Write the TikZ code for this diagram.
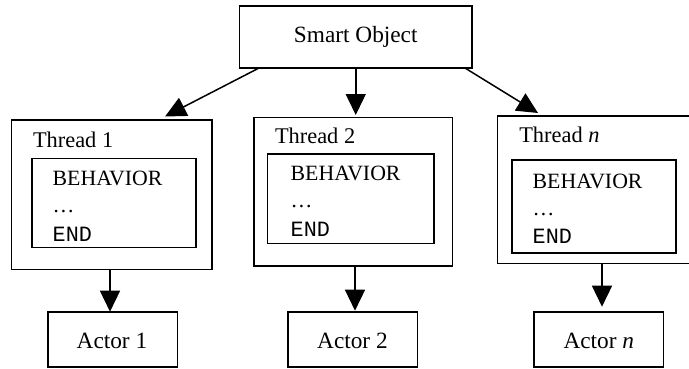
\documentclass[tikz,border=0pt]{standalone}
\usepackage{fontspec}
\setmainfont{Liberation Serif}
\setmonofont{Liberation Mono}
\usetikzlibrary{arrows.meta}
\begin{document}
\begin{tikzpicture}[x=1pt,y=-1pt,
  box/.style={draw,line width=1.6pt,rectangle,inner sep=0pt,outer sep=0pt,font=\fontsize{23.3pt}{28pt}\selectfont},
  txt/.style={anchor=base west,inner sep=0pt,outer sep=0pt,font=\fontsize{23.3pt}{28pt}\selectfont},
  thr/.style={txt,font=\fontsize{22.4pt}{27pt}\selectfont},
  inl/.style={txt,font=\fontsize{21.8pt}{26pt}\selectfont},
  arr/.style={line width=1.5pt,-{Triangle[length=21pt,width=20pt]}}]
\useasboundingbox (0,0) rectangle (689,368);
% top
\node[box,minimum width=232.5pt,minimum height=62pt] (so) at (355.75,37) {Smart Object};
% threads
\node[box,minimum width=200.2pt,minimum height=149.5pt] (t1) at (111.6,194.75) {};
\node[box,minimum width=198.5pt,minimum height=148.2pt] (t2) at (353.25,191.6) {};
\node[box,minimum width=210pt,minimum height=147.5pt] (tn) at (602.5,189.75) {};
\node[thr] (t1l) at (33,147) {Thread 1};
\node[thr] (t2l) at (275,143.3) {Thread 2};
\node[thr] (tnl) at (519.3,142.3) {Thread \textit{n}};
% inner boxes
\node[box,minimum width=164pt,minimum height=89.2pt] (in1) at (113.7,202.9) {};
\node[box,minimum width=166.5pt,minimum height=89.5pt] (in2) at (350.75,198.75) {};
\node[box,minimum width=164pt,minimum height=92.7pt] (inn) at (593.7,206.35) {};
\node[inl] (b1) at (52.7,185) {BEHAVIOR};
\node[inl] (d1) at (52.7,212) {…};
\node[inl] (e1) at (52.7,241) {\ttfamily END};
\node[inl] (b2) at (290.7,180) {BEHAVIOR};
\node[inl] (d2) at (290.7,207) {…};
\node[inl] (e2) at (290.7,236) {\ttfamily END};
\node[inl] (bn) at (532.7,188.3) {BEHAVIOR};
\node[inl] (dn) at (532.7,215) {…};
\node[inl] (en) at (532.7,243.3) {\ttfamily END};
% actors
\node[box,minimum width=129.8pt,minimum height=55.3pt] (a1) at (112.6,339.35) {};
\node[box,minimum width=129.5pt,minimum height=55.3pt] (a2) at (352.75,339.35) {};
\node[box,minimum width=129.4pt,minimum height=55.3pt] (an) at (598.7,339.35) {};
\node[txt] (a1l) at (76.7,348.3) {Actor 1};
\node[txt] (a2l) at (317.2,348.3) {Actor 2};
\node[txt] (anl) at (563.5,348.3) {Actor \textit{n}};
% arrows top
\draw[arr] ([xshift=19.5pt]so.south west) -- ([xshift=153.5pt,yshift=3.5pt]t1.north west);
\draw[arr,shorten >=2.5pt] (so.south) -- (so.south |- t2.north);
\draw[arr] ([xshift=-7pt]so.south east) -- ([xshift=40.5pt,yshift=3pt]tn.north west);
% arrows bottom
\coordinate (a1in) at ([xshift=-2.6pt]a1.north);
\coordinate (a2in) at ([xshift=2.25pt]a2.north);
\coordinate (anin) at ([xshift=3.3pt]an.north);
\draw[arr] (a1in |- t1.south) -- (a1in);
\draw[arr,shorten >=1pt] (a2in |- t2.south) -- (a2in);
\draw[arr,shorten >=5pt] (anin |- tn.south) -- (anin);
\end{tikzpicture}
\end{document}
